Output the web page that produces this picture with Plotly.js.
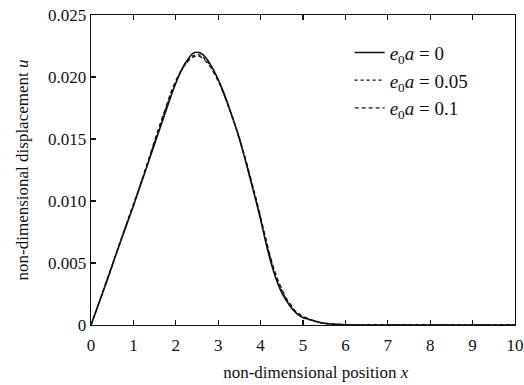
<!DOCTYPE html>
<html>
<head>
<meta charset="utf-8">
<script src="https://cdn.plot.ly/plotly-3.0.1.min.js"></script>
<style>html,body{margin:0;padding:0;background:#fff;}#chart{width:524px;height:385px;}</style>
</head>
<body>
<div id="chart"></div>
<script>
const xPos =  [0, 0.2, 0.4, 0.6, 0.8, 1.0, 1.2, 1.4, 1.6, 1.8, 1.9, 2.0, 2.1, 2.2, 2.3, 2.4, 2.5, 2.6, 2.7, 2.8, 2.9, 3.0, 3.1, 3.2, 3.3, 3.4, 3.5, 3.6, 3.7, 3.8, 3.9, 4.0, 4.1, 4.2, 4.3, 4.4, 4.5, 4.6, 4.7, 4.8, 4.9, 5.0, 5.2, 5.4, 5.6, 5.8, 6.0, 7, 8, 9, 10];
const uE0 =   [0, 0.0019, 0.0038, 0.0058, 0.0077, 0.0096, 0.0116, 0.0136, 0.0156, 0.0176, 0.0186, 0.0195, 0.0203, 0.0210, 0.0215, 0.0219, 0.0220, 0.0219, 0.0216, 0.0211, 0.0205, 0.0198, 0.0190, 0.0181, 0.0171, 0.0161, 0.0150, 0.0138, 0.0125, 0.0112, 0.0099, 0.0085, 0.0070, 0.0056, 0.0044, 0.0034, 0.0026, 0.0020, 0.0015, 0.0011, 0.0008, 0.0006, 0.0004, 0.0002, 0.0001, 0.00005, 0.00002, 0, 0, 0, 0];
const uE005 = [0, 0.0019, 0.0038, 0.0058, 0.0078, 0.0097, 0.0117, 0.0137, 0.0158, 0.0178, 0.0188, 0.0196, 0.0203, 0.0209, 0.0214, 0.0217, 0.0218, 0.0217, 0.0214, 0.0210, 0.0204, 0.0197, 0.0189, 0.0180, 0.0171, 0.0161, 0.0150, 0.0139, 0.0126, 0.0113, 0.0100, 0.0086, 0.0072, 0.0058, 0.0046, 0.0036, 0.0028, 0.0021, 0.0016, 0.0012, 0.0009, 0.0006, 0.0004, 0.0002, 0.0001, 0.00005, 0.00002, 0, 0, 0, 0];
const uE01 =  [0, 0.0019, 0.0039, 0.0058, 0.0078, 0.0097, 0.0117, 0.0138, 0.0159, 0.0179, 0.0189, 0.0197, 0.0204, 0.0209, 0.0213, 0.0216, 0.0217, 0.0216, 0.0213, 0.0209, 0.0203, 0.0197, 0.0189, 0.0180, 0.0171, 0.0161, 0.0151, 0.0139, 0.0127, 0.0114, 0.0101, 0.0087, 0.0073, 0.0059, 0.0047, 0.0037, 0.0029, 0.0022, 0.0017, 0.0012, 0.0009, 0.0007, 0.0004, 0.0002, 0.0001, 0.00005, 0.00002, 0, 0, 0, 0];
const seriesNames = ['<i>e</i><sub>0</sub><i>a</i> = 0', '<i>e</i><sub>0</sub><i>a</i> = 0.05', '<i>e</i><sub>0</sub><i>a</i> = 0.1'];
const xTickVals = [0,1,2,3,4,5,6,7,8,9,10];
const xTickText = ['0','1','2','3','4','5','6','7','8','9','10'];
const yTickVals = [0, 0.005, 0.010, 0.015, 0.020, 0.025];
const yTickText = ['0','0.005','0.010','0.015','0.020','0.025'];

const font = 'Liberation Serif, Times New Roman, serif';
const traces = [
  {x: xPos, y: uE0, name: seriesNames[0], mode: 'lines', line: {color: '#111', width: 1.6, shape: 'spline', smoothing: 1}},
  {x: xPos, y: uE005, name: seriesNames[1], mode: 'lines', line: {color: '#111', width: 1.3, dash: '3px,3px', shape: 'spline', smoothing: 1}},
  {x: xPos, y: uE01, name: seriesNames[2], mode: 'lines', line: {color: '#111', width: 1.3, dash: '4px,3px', shape: 'spline', smoothing: 1}}
];
const axisCommon = {
  showgrid: false, zeroline: false, showline: true, linecolor: '#111', linewidth: 1.3,
  ticks: 'inside', ticklen: 5, tickcolor: '#111', tickwidth: 1.2,
  tickfont: {family: font, size: 17, color: '#111'}
};
const layout = {
  width: 524, height: 385,
  margin: {l: 91, r: 9, t: 15, b: 60},
  paper_bgcolor: '#fff', plot_bgcolor: '#fff',
  showlegend: true,
  legend: {x: 0.61, y: 0.94, xanchor: 'left', yanchor: 'top', bgcolor: 'rgba(0,0,0,0)',
           font: {family: font, size: 19, color: '#111'}, tracegroupgap: 0, itemwidth: 30},
  xaxis: Object.assign({}, axisCommon, {range: [0, 10], tickvals: xTickVals, ticktext: xTickText, mirror: 'ticks', ticklabelstandoff: 4,
    title: {text: '&nbsp;&nbsp;&nbsp;&nbsp;&nbsp;&nbsp;non-dimensional position <i>x</i>', font: {family: font, size: 17, color: '#111'}, standoff: 12}}),
  yaxis: Object.assign({}, axisCommon, {range: [0, 0.025], tickvals: yTickVals, ticktext: yTickText, mirror: true,
    title: {text: 'non-dimensional displacement <i>u</i>', font: {family: font, size: 17, color: '#111'}, standoff: 15}})
};
Plotly.newPlot('chart', traces, layout, {displayModeBar: false, staticPlot: true});
</script>
</body>
</html>
